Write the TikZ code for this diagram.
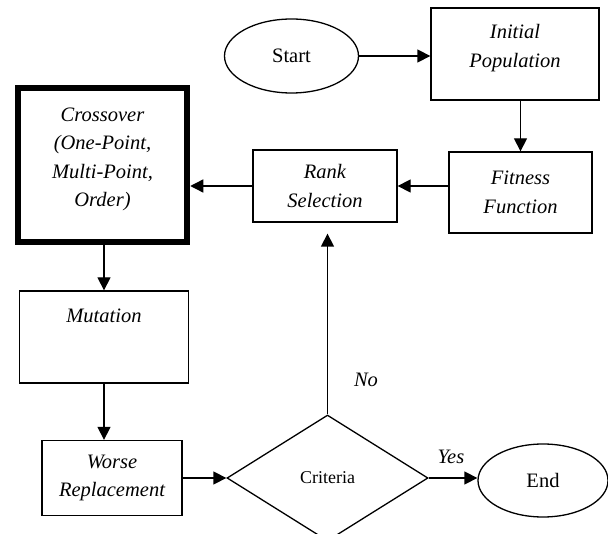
\documentclass[tikz,border=0pt]{standalone}
\usepackage{fontspec}
\setmainfont{Liberation Serif}
\usetikzlibrary{shapes.geometric,arrows.meta}
\begin{document}
\begin{tikzpicture}[x=1pt,y=-1pt,
  box/.style={draw,line width=1.3pt,align=center,inner sep=0pt,
    font=\fontsize{20.5}{28.5}\selectfont\itshape},
  oval/.style={draw,ellipse,line width=1.3pt,inner sep=0pt,
    font=\fontsize{20.5}{24}\selectfont},
  flow/.style={line width=1.3pt,-{Triangle[length=13pt,width=13pt]}},
  tag/.style={font=\fontsize{20.5}{24}\selectfont\itshape}]
\useasboundingbox (0,0) rectangle (608,534);
\node[oval,minimum width=134pt,minimum height=74pt] (start) at (291.5,56) {Start};
\node[box,minimum width=168pt,minimum height=92pt,text depth=16pt] (init) at (515,54) {Initial\\Population};
\node[box,minimum width=143pt,minimum height=81pt] (fit) at (520.5,192.5) {Fitness\\Function};
\node[box,minimum width=144pt,minimum height=72pt] (rank) at (325,186) {Rank\\Selection};
\node[box,minimum width=169pt,minimum height=154pt,line width=6.5pt,text depth=16pt] (cross) at (102.5,165) {Crossover\\(One-Point,\\Multi-Point,\\Order)};
\node[box,minimum width=169pt,minimum height=92pt,text depth=42pt] (mut) at (104,337) {Mutation};
\node[box,minimum width=140pt,minimum height=75pt] (worse) at (112,478) {Worse\\Replacement};
\node[draw,diamond,line width=1.3pt,inner sep=0pt,minimum width=201pt,minimum height=126pt,
  font=\fontsize{18}{20}\selectfont] (dec) at (327.5,478) {Criteria};
\node[oval,minimum width=130pt,minimum height=73pt] (end) at (543,480.5) {End};
\node[tag] (noLbl) at (366,380) {No};
\node[tag] (yesLbl) at (451,457) {Yes};
\draw[flow] (start.east) -- (start.east -| init.west);
\draw[flow] (init.south -| fit.north) -- (fit.north);
\draw[flow] (fit.west |- rank.east) -- (rank.east);
\draw[flow] (rank.west) -- (rank.west -| cross.east);
\draw[flow] (cross.south -| mut.north) -- (mut.north);
\draw[flow] (mut.south) -- (mut.south |- worse.north);
\draw[flow] (worse.east) -- (dec.west);
\draw[flow,shorten >=11pt] (dec.north) -- (dec.north |- rank.south);
\draw[flow] (dec.east) -- (dec.east -| end.west);
\end{tikzpicture}
\end{document}
